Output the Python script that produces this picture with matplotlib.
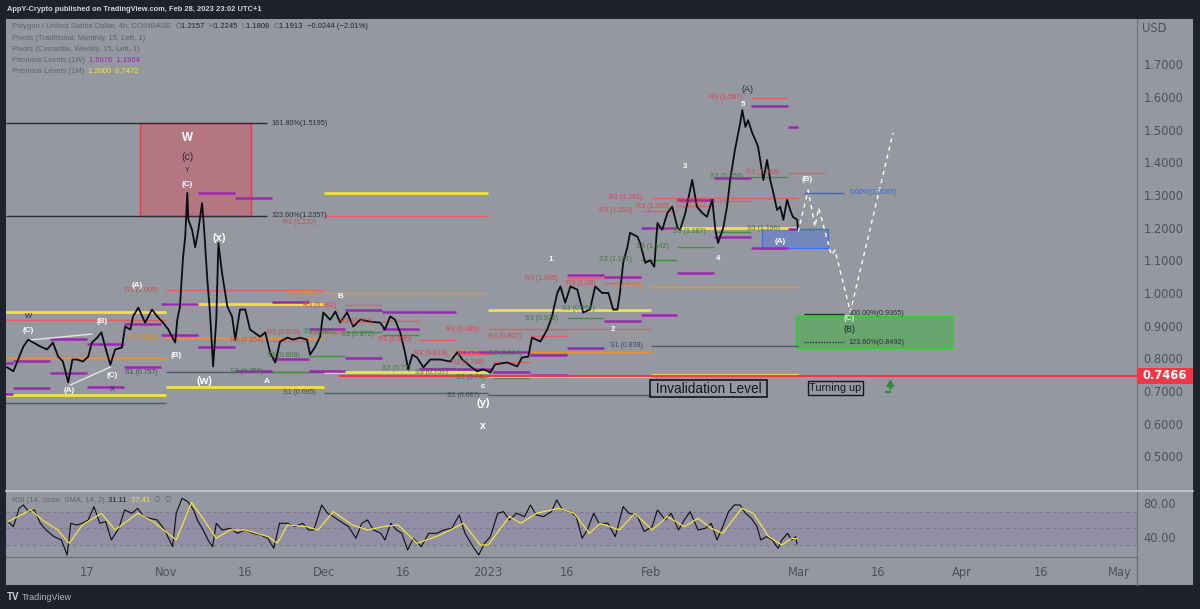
import numpy as np
import matplotlib
matplotlib.use("Agg")
import matplotlib.pyplot as plt
from matplotlib.patches import Rectangle

# ---------------- data (time = days since 2022-10-17) ----------------
DAY0 = np.datetime64('2022-10-17')

PRICE_T = [-15.2, -14.0, -13.1, -12.1, -11.2, -10.2, -8.9, -7.6, -6.5, -5.5,
           -4.6, -3.6, -2.8, -1.9, -0.8, 0.2, 0.9, 1.9, 2.7, 3.4,
           4.4, 5.3, 6.6, 7.2, 8.2, 8.7, 9.7, 11.0, 12.3, 13.3,
           14.4, 15.4, 16.1, 16.7, 17.1, 17.6, 18.2, 18.6, 19.0, 19.2,
           19.9, 20.5, 21.1, 21.8, 22.2, 22.8, 23.3, 23.9, 24.5, 24.9,
           25.6, 26.6, 27.5, 28.1, 29.0, 30.0, 30.9, 32.8, 33.8, 34.7,
           35.7, 36.6, 38.0, 39.1, 40.4, 41.7, 42.3, 43.3, 44.2, 44.8,
           46.1, 47.1, 48.0, 49.3, 50.5, 51.8, 53.7, 55.6, 56.5, 57.5,
           58.4, 59.4, 60.3, 60.9, 61.7, 62.6, 63.8, 65.1, 67.0, 68.9,
           70.2, 71.2, 72.7, 74.0, 75.1, 76.5, 77.4, 79.7, 81.6, 82.5,
           83.7, 84.4, 86.0, 87.3, 88.2, 89.2, 89.8, 90.7, 91.7, 93.0,
           94.1, 95.4, 96.4, 97.7, 98.9, 99.8, 100.6, 101.1, 101.7, 102.5,
           103.0, 104.4, 104.9, 105.9, 106.8, 107.6, 108.2, 109.1, 110.1, 111.0,
           112.0, 112.5, 113.5, 114.4, 114.8, 115.7, 116.7, 117.6, 118.6, 119.2,
           119.7, 120.7, 121.4, 122.0, 122.9, 123.9, 124.3, 124.9, 125.4, 126.2,
           126.8, 127.3, 127.7, 128.3, 129.0, 129.6, 130.2, 130.9, 131.5, 132.1,
           132.8, 133.4, 133.9, 134.7, 134.9]
PRICE = [0.772, 0.760, 0.796, 0.836, 0.857, 0.848, 0.836, 0.827, 0.848, 0.805,
         0.790, 0.726, 0.796, 0.796, 0.790, 0.805, 0.848, 0.863, 0.879, 0.836,
         0.780, 0.827, 0.833, 0.897, 0.888, 0.928, 0.955, 0.909, 0.949, 0.928,
         0.909, 0.888, 0.866, 0.848, 0.918, 0.958, 1.110, 1.170, 1.306, 1.224,
         1.193, 1.140, 1.193, 1.275, 1.193, 1.040, 0.940, 0.775, 0.918, 1.153,
         1.060, 0.958, 0.928, 0.857, 0.949, 0.949, 0.888, 0.866, 0.879, 0.818,
         0.787, 0.851, 0.863, 0.857, 0.863, 0.857, 0.811, 0.836, 0.866, 0.940,
         0.918, 0.943, 0.909, 0.940, 0.897, 0.918, 0.912, 0.909, 0.888, 0.928,
         0.918, 0.879, 0.818, 0.766, 0.811, 0.802, 0.772, 0.796, 0.796, 0.790,
         0.818, 0.796, 0.775, 0.760, 0.766, 0.757, 0.781, 0.787, 0.775, 0.802,
         0.805, 0.863, 0.851, 0.888, 0.928, 1.000, 1.020, 0.970, 1.020, 1.010,
         0.940, 0.949, 1.020, 1.000, 1.000, 0.949, 0.949, 1.000, 1.092, 1.140,
         1.184, 1.172, 1.153, 1.092, 1.100, 1.080, 1.214, 1.193, 1.245, 1.264,
         1.200, 1.193, 1.245, 1.315, 1.346, 1.264, 1.245, 1.233, 1.285, 1.193,
         1.153, 1.200, 1.264, 1.346, 1.437, 1.520, 1.560, 1.508, 1.529, 1.489,
         1.468, 1.447, 1.407, 1.346, 1.407, 1.346, 1.306, 1.254, 1.264, 1.224,
         1.285, 1.254, 1.233, 1.224, 1.191]

RSI_T = [-15.0, -14.0, -12.9, -12.1, -11.1, -10.0, -8.9, -7.8, -6.3, -4.9,
         -3.8, -3.1, -2.0, -0.9, 0.2, 1.3, 2.4, 3.5, 4.6, 6.0,
         7.1, 8.5, 9.6, 10.7, 11.8, 13.3, 14.7, 16.2, 16.9, 18.0,
         19.1, 20.2, 20.9, 22.0, 23.1, 23.8, 24.5, 25.6, 27.1, 28.5,
         30.0, 31.4, 32.9, 34.3, 35.4, 36.5, 38.0, 39.4, 40.9, 42.0,
         43.0, 44.5, 45.6, 46.7, 48.1, 49.6, 51.0, 52.1, 53.2, 54.3,
         55.7, 56.5, 57.6, 58.7, 59.7, 60.8, 61.9, 63.4, 64.8, 66.3,
         67.7, 69.2, 70.6, 71.7, 73.2, 74.3, 75.4, 76.5, 77.9, 79.0,
         80.1, 81.5, 83.0, 84.1, 85.2, 86.6, 88.1, 89.1, 90.2, 91.7,
         92.8, 93.9, 94.9, 96.1, 97.1, 98.8, 100.2, 101.7, 102.8, 104.3,
         105.7, 107.2, 108.2, 109.7, 110.8, 112.2, 113.3, 114.4, 115.9, 117.3,
         118.4, 119.5, 120.6, 121.7, 122.8, 123.9, 124.9, 126.0, 127.1, 127.8,
         128.9, 130.0, 131.1, 131.8, 132.9, 133.7, 134.4, 134.7]
RSI = [58, 52, 74, 78, 70, 72, 56, 48, 40, 36,
       18, 56, 54, 56, 60, 76, 56, 58, 36, 50,
       72, 68, 74, 64, 62, 60, 48, 28, 68, 86,
       82, 72, 60, 48, 34, 28, 56, 48, 50, 44,
       48, 44, 42, 38, 26, 56, 56, 52, 56, 48,
       48, 78, 68, 64, 58, 52, 38, 56, 60, 48,
       44, 36, 56, 48, 44, 24, 38, 28, 44, 44,
       48, 50, 66, 44, 28, 18, 32, 40, 68, 70,
       60, 68, 64, 78, 66, 64, 70, 84, 72, 70,
       64, 38, 48, 68, 56, 56, 40, 76, 68, 66,
       46, 52, 72, 60, 68, 48, 60, 70, 48, 50,
       56, 36, 52, 70, 78, 78, 68, 62, 52, 36,
       40, 36, 26, 36, 44, 36, 40, 31.11]

RSI_MA_T = [-15.0, -10.7, -8.5, -5.6, -3.4, -0.9, 2.7, 5.3, 9.6, 12.5,
            16.9, 19.8, 21.3, 24.5, 27.1, 30.0, 34.3, 36.1, 38.0, 41.6,
            43.8, 46.7, 50.3, 53.2, 56.1, 59.0, 62.6, 67.0, 71.4, 74.6,
            76.1, 80.1, 82.3, 85.2, 89.5, 92.4, 95.3, 97.3, 101.0, 103.9,
            107.2, 110.1, 113.3, 115.9, 118.4, 120.6, 124.2, 126.4, 129.3, 131.8,
            133.7, 134.7]
RSI_MA = [58, 72, 60, 48, 32, 54, 68, 48, 68, 58,
          36, 80.8, 68, 38, 48, 48, 40, 32, 54, 52,
          48, 70, 54, 48, 52, 54, 32, 42, 56, 30,
          30, 64, 56, 68, 74, 68, 44, 56, 48, 68,
          48, 64, 52, 62, 50, 44, 74, 68, 40, 30,
          38, 37.41]

# monthly traditional pivots and previous-month levels
MONTHS = ['2022-10-01', '2022-11-01', '2022-12-01', '2023-01-01', '2023-02-01', '2023-03-01']
M_R1 = [0.917, 1.008, 1.237, 0.889, 1.291]
M_P = [0.801, 0.862, 0.999, 0.818, 1.019]
M_S1 = [0.663, 0.757, 0.695, 0.687, 0.838]
M_PREV_H = [0.942, 0.966, 1.306, 0.948, 1.2000]
M_PREV_L = [0.688, 0.713, 0.758, 0.747, 0.7472]

# weekly previous levels (purple)
WEEKS = ['2022-09-26', '2022-10-03', '2022-10-10', '2022-10-17', '2022-10-24', '2022-10-31',
         '2022-11-07', '2022-11-14', '2022-11-21', '2022-11-28', '2022-12-05', '2022-12-12',
         '2022-12-19', '2022-12-26', '2023-01-02', '2023-01-09', '2023-01-16', '2023-01-23',
         '2023-01-30', '2023-02-06', '2023-02-13', '2023-02-20', '2023-02-27']
W_HIGH = [0.785, 0.791, 0.859, 0.844, 0.905, 0.966, 1.306, 1.291, 0.973, 0.890, 0.949, 0.943,
          0.942, 0.819, 0.820, 0.810, 1.055, 1.049, 1.199, 1.284, 1.352, 1.572, 1.5076]
W_LOW = [0.691, 0.709, 0.755, 0.712, 0.774, 0.871, 0.834, 0.760, 0.798, 0.761, 0.802, 0.888,
         0.766, 0.766, 0.757, 0.749, 0.832, 0.914, 0.932, 1.061, 1.171, 1.138, 1.1954]

# weekly camarilla R3 / S3
CAM_WEEKS = ['2022-11-21', '2022-11-28', '2022-12-05', '2022-12-12', '2022-12-19', '2022-12-26',
             '2023-01-02', '2023-01-09', '2023-01-16', '2023-01-23', '2023-01-30', '2023-02-06',
             '2023-02-13', '2023-02-20', '2023-02-27']
CAM_R3 = [0.854, 0.878, 0.962, 0.913, 0.856, 0.813, 0.788, 0.867, 1.045, 1.030, 1.252, 1.265,
          1.280, 1.597, 1.368]
CAM_S3 = [0.758, 0.808, 0.881, 0.872, 0.770, 0.757, 0.740, 0.814, 0.922, 0.951, 1.101, 1.142,
          1.187, 1.356, 1.196]

INVALIDATION = 0.7466
INVALIDATION_START = '2022-12-04'

FIB_LEFT = [('161.80%', 1.5195), ('123.60%', 1.2357)]
FIB_RIGHT = [('100.00%', 0.9365), ('123.60%', 0.8492)]
FIB_ZERO = ('0.00%', 1.3063)

RED_BOX = (10.06, 31.1, 1.2357, 1.5195)
BLUE_BOX = (128.1, 140.6, 1.138, 1.196)
GREEN_BOX = (134.5, 164.1, 0.8314, 0.9294)

PROJ_T = [134.9, 136.8, 138.1, 138.8, 141.2, 141.9, 144.8, 152.9]
PROJ_P = [1.187, 1.315, 1.203, 1.260, 1.116, 1.131, 0.942, 1.490]

TRI_LINES = [((-10.8, 0.856), (0.9, 0.874)), ((-3.2, 0.718), (4.4, 0.773))]

WAVES = [('W', 19.0, 1.474, 'white', 8.4, 'bold'),
         ('(c)', 19.0, 1.416, '#2a2e39', 7.6, 'normal'),
         ('Y', 19.0, 1.376, '#2a2e39', 5.0, 'normal'),
         ('(C)', 19.0, 1.333, 'white', 5.8, 'bold'),
         ('W', -11.2, 0.929, '#2a2e39', 5.5, 'normal'),
         ('(C)', -11.2, 0.884, 'white', 5.8, 'bold'),
         ('(A)', -3.4, 0.700, 'white', 5.8, 'bold'),
         ('(B)', 2.8, 0.911, 'white', 5.8, 'bold'),
         ('(C)', 4.7, 0.746, 'white', 5.8, 'bold'),
         ('X', 4.7, 0.703, '#2a2e39', 5.5, 'normal'),
         ('(A)', 9.5, 1.022, 'white', 5.8, 'bold'),
         ('(B)', 16.9, 0.807, 'white', 5.8, 'bold'),
         ('(w)', 22.2, 0.731, 'white', 8.0, 'bold'),
         ('(x)', 25.0, 1.167, 'white', 8.0, 'bold'),
         ('A', 34.1, 0.728, 'white', 5.8, 'bold'),
         ('B', 48.0, 0.990, 'white', 5.8, 'bold'),
         ('c', 75.0, 0.713, 'white', 5.8, 'bold'),
         ('(y)', 75.1, 0.662, 'white', 8.0, 'bold'),
         ('x', 75.0, 0.592, 'white', 7.5, 'bold'),
         ('1', 88.0, 1.103, 'white', 5.8, 'bold'),
         ('2', 99.8, 0.889, 'white', 5.8, 'bold'),
         ('3', 113.5, 1.386, 'white', 5.8, 'bold'),
         ('4', 119.7, 1.106, 'white', 5.8, 'bold'),
         ('5', 124.4, 1.578, 'white', 5.8, 'bold'),
         ('(A)', 125.2, 1.622, '#2a2e39', 6.5, 'normal'),
         ('(B)', 136.7, 1.348, 'white', 5.8, 'bold'),
         ('(A)', 131.5, 1.157, 'white', 5.8, 'bold'),
         ('(C)', 144.6, 0.922, '#d9f2d9', 5.8, 'bold'),
         ('(B)', 144.6, 0.889, '#1e222d', 6.5, 'normal')]

PRICE_TICKS = [0.5, 0.6, 0.7, 0.8, 0.9, 1.0, 1.1, 1.2, 1.3, 1.4, 1.5, 1.6, 1.7]
RSI_TICKS = [40, 80]
TIME_TICK_DATES = ['2022-10-17', '2022-11-01', '2022-11-16', '2022-12-01', '2022-12-16',
                   '2023-01-01', '2023-01-16', '2023-02-01', '2023-03-01', '2023-03-16',
                   '2023-04-01', '2023-04-16', '2023-05-01']
TIME_TICK_LABELS = ['17', 'Nov', '16', 'Dec', '16', '2023', '16', 'Feb', 'Mar', '16', 'Apr', '16', 'May']


def day(s):
    return float((np.datetime64(s) - DAY0) / np.timedelta64(1, 'D'))


# ---------------- styling ----------------
W, H = 1200, 609
BG = '#9598a1'
DARK = '#1e222d'
AXTXT = '#4e515c'
SMALL = ['Liberation Sans', 'DejaVu Sans']
RED_LN, RED_TX = '#e35d62', '#d6474e'
GRN_LN, GRN_TX = '#4a8a4c', '#3b7a3d'
ORG_LN, ORG_TX = '#ea9330', '#f08a12'
SLT_LN, SLT_TX = '#4d5f66', '#3d4f57'
PURPLE = '#9c27b0'
YELLOW = '#f2e33c'

plt.rcParams['font.family'] = ['DejaVu Sans']


def fx(px):
    return px / W


def fy(py):
    return 1 - py / H


fig = plt.figure(figsize=(12, 6.09), dpi=100)
fig.patch.set_facecolor(DARK)
fig.add_artist(Rectangle((fx(6), fy(585)), fx(1193) - fx(6), fy(19) - fy(585),
                         transform=fig.transFigure, facecolor=BG, edgecolor='none', zorder=-5))

ax = fig.add_axes([fx(6), fy(490.7), fx(1136.5) - fx(6), fy(19) - fy(490.7)])
rax = fig.add_axes([fx(6), fy(557.3), fx(1136.5) - fx(6), fy(490.7) - fy(557.3)], sharex=ax)
for a in (ax, rax):
    a.set_facecolor('none')
    a.spines['left'].set_visible(False)
    a.spines['right'].set_color('#6b6e78')
ax.spines['top'].set_visible(False)
ax.spines['bottom'].set_visible(False)
rax.spines['top'].set_color('#c9cbd1')
rax.spines['top'].set_linewidth(1.2)
rax.spines['bottom'].set_color('#6b6e78')

XMIN, XMAX = -15.4, 199.1
ax.set_xlim(XMIN, XMAX)
ax.set_ylim(0.3944, 1.8387)
rax.set_ylim(15.2, 95.1)

ax.yaxis.tick_right()
ax.set_yticks(PRICE_TICKS)
ax.set_yticklabels([f'{v:.4f}' for v in PRICE_TICKS])
ax.tick_params(axis='y', length=0, pad=5, labelsize=8.3, labelcolor=AXTXT)
ax.tick_params(axis='x', length=0, labelbottom=False)

rax.yaxis.tick_right()
rax.set_yticks(RSI_TICKS)
rax.set_yticklabels([f'{v:.2f}' for v in RSI_TICKS])
rax.tick_params(axis='y', length=0, pad=5, labelsize=8.3, labelcolor=AXTXT)
rax.set_xticks([day(d) for d in TIME_TICK_DATES])
rax.set_xticklabels(TIME_TICK_LABELS)
rax.tick_params(axis='x', length=0, pad=6, labelsize=8.3, labelcolor=AXTXT)

# separators outside axes
fig.add_artist(plt.Line2D([fx(1136.5), fx(1136.5)], [fy(557.3), fy(585)], transform=fig.transFigure,
                          color='#6b6e78', lw=1))
fig.add_artist(plt.Line2D([fx(1136.5), fx(1193)], [fy(490.7), fy(490.7)], transform=fig.transFigure,
                          color='#c9cbd1', lw=1.2))


def seg(a, x0, x1, y, color, lw=1.0, ls='-', z=2):
    a.plot([x0, x1], [y, y], color=color, lw=lw, ls=ls, zorder=z, solid_capstyle='butt')


def lab(a, x, y, s, color, size=5.0, ha='right', weight='normal', z=6):
    a.text(x, y, s, color=color, fontsize=size, ha=ha, va='center', family=SMALL,
           fontweight=weight, zorder=z, clip_on=True)


def fmt(v):
    return f'{v:.3f}'.rstrip('0')


last_t = PRICE_T[-1]

# ---------------- boxes ----------------
x0, x1, y0, y1 = RED_BOX
ax.add_patch(Rectangle((x0, y0), x1 - x0, y1 - y0, facecolor='#f23645', alpha=0.33, edgecolor='none', zorder=1))
ax.add_patch(Rectangle((x0, y0), x1 - x0, y1 - y0, facecolor='none', edgecolor='#f23645', lw=1, zorder=1.5))
x0, x1, y0, y1 = BLUE_BOX
ax.add_patch(Rectangle((x0, y0), x1 - x0, y1 - y0, facecolor='#2962ff', alpha=0.3, edgecolor='none', zorder=1))
ax.add_patch(Rectangle((x0, y0), x1 - x0, y1 - y0, facecolor='none', edgecolor='#3d6fff', lw=1, zorder=1.5))
x0, x1, y0, y1 = GREEN_BOX
ax.add_patch(Rectangle((x0, y0), x1 - x0, y1 - y0, facecolor='#43b047', alpha=0.55, edgecolor='none', zorder=1))
ax.add_patch(Rectangle((x0, y0), x1 - x0, y1 - y0, facecolor='none', edgecolor='#2ecc2e', lw=1, zorder=1.5))

# ---------------- fibonacci lines ----------------
for name, v in FIB_LEFT:
    seg(ax, XMIN, 34.1, v, '#2a2e39', lw=1.0)
    lab(ax, 35.0, v, f'{name}({v:.4f})', '#2a2e39', size=5.2, ha='left')
for i, (name, v) in enumerate(FIB_RIGHT):
    seg(ax, 136.1, 143.6, v, '#2a2e39', lw=1.0, ls='-' if i == 0 else (0, (1, 1)))
    lab(ax, 144.4, v, f'{name}({v:.4f})', '#2a2e39', size=5.2, ha='left')
seg(ax, 136.1, 143.6, FIB_ZERO[1], '#2962ff', lw=1.0)
lab(ax, 144.6, FIB_ZERO[1], f'{FIB_ZERO[0]}({FIB_ZERO[1]:.4f})', '#2962ff', size=5.2, ha='left')

# ---------------- monthly pivots ----------------
for i in range(len(MONTHS) - 1):
    a0, a1 = day(MONTHS[i]), day(MONTHS[i + 1])
    a1 = min(a1, last_t)
    seg(ax, a0, a1, M_R1[i], RED_LN, lw=1.0)
    seg(ax, a0, a1, M_P[i], ORG_LN, lw=1.0)
    seg(ax, a0, a1, M_S1[i], SLT_LN, lw=1.0)
    seg(ax, a0, a1, M_PREV_H[i], YELLOW, lw=2.0, z=2.5)
    seg(ax, a0, a1, M_PREV_L[i], YELLOW, lw=2.0, z=2.5)
    if i >= 1:
        # the Dec R1 label sits under the 123.6% fib label; nudge it below the line
        dy = -0.022 if i == 2 else 0.0
        lab(ax, a0 - 1.6, M_R1[i] + dy, f'R1 ({fmt(M_R1[i])})', RED_TX)
        lab(ax, a0 - 1.6, M_P[i], f'P ({fmt(M_P[i])})', ORG_TX)
        lab(ax, a0 - 1.6, M_S1[i], f'S1 ({fmt(M_S1[i])})', SLT_TX)

# ---------------- weekly camarilla ----------------
for w, r3, s3 in zip(CAM_WEEKS, CAM_R3, CAM_S3):
    a0 = day(w)
    seg(ax, a0, a0 + 7, r3, RED_LN, lw=1.0)
    seg(ax, a0, a0 + 7, s3, GRN_LN, lw=1.0)
    lab(ax, a0 - 1.6, r3, f'R3 ({fmt(r3)})', RED_TX)
    lab(ax, a0 - 1.6, s3, f'S3 ({fmt(s3)})', GRN_TX)

# ---------------- weekly previous levels ----------------
for w, hi, lo in zip(WEEKS, W_HIGH, W_LOW):
    a0 = day(w)
    a1 = min(a0 + 7, last_t)
    seg(ax, a0, a1, hi, PURPLE, lw=1.8, z=2.6)
    seg(ax, a0, a1, lo, PURPLE, lw=1.8, z=2.6)

# invalidation line
ax.plot([day(INVALIDATION_START), XMAX], [INVALIDATION, INVALIDATION], color='#f23645', lw=1.4, zorder=3)

# triangle lines
for (p0, p1) in TRI_LINES:
    ax.plot([p0[0], p1[0]], [p0[1], p1[1]], color='#e6e6e6', lw=1.0, zorder=3)

# ---------------- price ----------------
ax.plot(PRICE_T, PRICE, color='#0b0d12', lw=1.3, zorder=4)

# projection
ax.plot(PROJ_T, PROJ_P, color='white', lw=1.0, ls=(0, (3, 3)), zorder=4)

# wave labels
for s, x, y, c, sz, wt in WAVES:
    ax.text(x, y, s, color=c, fontsize=sz, fontweight=wt, ha='center', va='center',
            family=SMALL, zorder=7)

# text boxes
ax.text(117.9, 0.7073, ' Invalidation Level ', fontsize=9.8, family=SMALL, color='#131722',
        ha='center', va='center', zorder=7,
        bbox=dict(boxstyle='square,pad=0.12', facecolor='none', edgecolor='#131722', lw=1.2))
ax.text(142.0, 0.709, 'Turning up', fontsize=7.8, family=SMALL, color='#131722',
        ha='center', va='center', zorder=7,
        bbox=dict(boxstyle='square,pad=0.15', facecolor='none', edgecolor='#131722', lw=1.0))
ax.annotate('', xy=(152.4, 0.745), xytext=(152.4, 0.698),
            arrowprops=dict(arrowstyle='-|>,head_length=0.35,head_width=0.2', color='#2e8b3a', lw=1.6),
            zorder=7)
ax.plot([151.6, 152.4], [0.698, 0.698], color='#2e8b3a', lw=1.6, zorder=7)

# price tag on axis
tr = ax.get_yaxis_transform()
ax.add_patch(Rectangle((1.0, INVALIDATION - 0.0245), (1193 - 1136.5) / (1136.5 - 6), 0.049,
                       transform=tr, facecolor='#f23645', edgecolor='none', clip_on=False, zorder=8))
ax.text(1.0 + 28 / 1130.5, INVALIDATION, f'{INVALIDATION:.4f}', transform=tr, color='white',
        fontsize=8.3, fontweight='bold', ha='center', va='center', clip_on=False, zorder=9)

# ---------------- RSI ----------------
rax.axhspan(30, 70, facecolor='#7e57c2', alpha=0.14, edgecolor='none', zorder=0)
for lvl in (70, 50, 30):
    rax.axhline(lvl, color='#787b86', lw=0.8, ls=(0, (3, 3)), zorder=1)
rax.plot(RSI_T, RSI, color='#0b0d12', lw=0.8, zorder=3)
rax.plot(RSI_MA_T, RSI_MA, color=YELLOW, lw=0.9, zorder=4)


# ---------------- legends / header ----------------
def chain(parts, x, y, size, weight='normal'):
    t = fig.text(x, y, parts[0][0], color=parts[0][1], fontsize=size, family=SMALL,
                 va='center', ha='left', fontweight=weight)
    prev = t
    for s, c in parts[1:]:
        prev = ax.annotate(s, xy=(1, 0.5), xycoords=prev, xytext=(0, 0), textcoords='offset points',
                           color=c, fontsize=size, family=SMALL, va='center', ha='left',
                           fontweight=weight, annotation_clip=False)
    return t


fig.text(fx(7), fy(9.5), 'AppY-Crypto published on TradingView.com, Feb 28, 2023 23:02 UTC+1',
         color='#d1d4dc', fontsize=5.4, family=SMALL, fontweight='bold', va='center')

LG = '#60636e'
LD = '#1e222d'
chain([('Polygon / United States Dollar, 4h, COINBASE  ', LG), ('O', LG), ('1.2157  ', LD),
       ('H', LG), ('1.2245  ', LD), ('L', LG), ('1.1808  ', LD), ('C', LG), ('1.1913  ', LD),
       ('\u22120.0244 (\u22122.01%)', LD)], fx(12), fy(27), 5.5)
chain([('Pivots (Traditional, Monthly, 15, Left, 1)', LG)], fx(12), fy(38.3), 5.5)
chain([('Pivots (Camarilla, Weekly, 15, Left, 1)', LG)], fx(12), fy(49.8), 5.5)
chain([('Previous Levels (1W)  ', LG), ('1.5076  1.1954', PURPLE)], fx(12), fy(61), 5.5)
chain([('Previous Levels (1M)  ', LG), ('1.2000  0.7472', YELLOW)], fx(12), fy(71.7), 5.5)
chain([('RSI (14, close, SMA, 14, 2)  ', LG), ('31.11  ', LD), ('37.41  ', YELLOW), ('\u2205  \u2205', LG)],
      fx(11.5), fy(500.7), 5.5)

fig.text(fx(1142), fy(28), 'USD', color=AXTXT, fontsize=8.3, va='center', ha='left')
fig.text(fx(7), fy(597), 'TV', color='#d1d4dc', fontsize=7, fontweight='bold', va='center', family=SMALL)
fig.text(fx(22), fy(597), 'TradingView', color='#b2b5be', fontsize=6.5, va='center', family=SMALL)

fig.savefig('out.png', dpi=100, facecolor=fig.get_facecolor())
